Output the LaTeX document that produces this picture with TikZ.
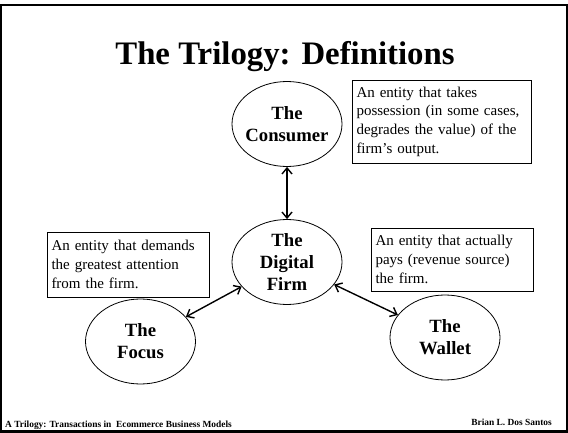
\documentclass[tikz,border=0pt]{standalone}
\usepackage{fontspec}
\setmainfont{Liberation Serif}
\usetikzlibrary{shapes.geometric,arrows.meta}

\tikzset{
  party/.style={draw, ellipse, line width=0.8pt, minimum width=110pt, minimum height=85pt,
    inner xsep=-4pt, inner ysep=0pt, align=center, font=\bfseries\fontsize{18.7}{22}\selectfont},
  defn/.style={draw, rectangle, line width=0.8pt, inner xsep=4.5pt, inner ysep=6pt,
    align=left, font=\fontsize{15}{18.6}\selectfont},
  link/.style={{Straight Barb[length=6pt,width=10pt]}-{Straight Barb[length=6pt,width=10pt]}, line width=1.4pt},
  foot/.style={inner sep=0pt, font=\bfseries\fontsize{9.4}{11}\selectfont}
}

\begin{document}
\begin{tikzpicture}[x=1pt,y=-1pt]

\useasboundingbox (0,0) rectangle (568,433);
\draw[line width=2.6pt] (1,5) rectangle (567,431.5);

\node[anchor=base, font=\bfseries\fontsize{32.8}{38}\selectfont] (title) at (285,65) {The Trilogy: Definitions};

\node[party] (consumer) at (287,124) {The\\Consumer};
\node[party] (firm) at (287,262) {The\\Digital\\Firm};
\node[party] (focus) at (140.5,341.5) {The\\Focus};
\node[party] (wallet) at (445,337.5) {The\\Wallet};

\node[defn, text width=170pt, minimum height=83pt] (dconsumer) at (441.5,121.5)
  {An entity that takes\\possession (in some cases,\\degrades the value) of the\\firm's output.};
\node[defn, text width=153pt, minimum height=65pt] (dfocus) at (128,264.5)
  {An entity that demands\\the greatest attention\\from the firm.};
\node[defn, text width=153pt, minimum height=63pt] (dwallet) at (452,259.5)
  {An entity that actually\\pays (revenue source)\\the firm.};

\draw[link] (consumer) -- (firm);
\draw[link] (focus) -- (firm);
\draw[link] (firm) -- (wallet);

\node[foot, anchor=base west] (course) at (5,427) {A Trilogy: Transactions in~~Ecommerce Business Models};
\node[foot, anchor=base east] (author) at (552,425) {Brian L. Dos Santos};

\end{tikzpicture}
\end{document}
